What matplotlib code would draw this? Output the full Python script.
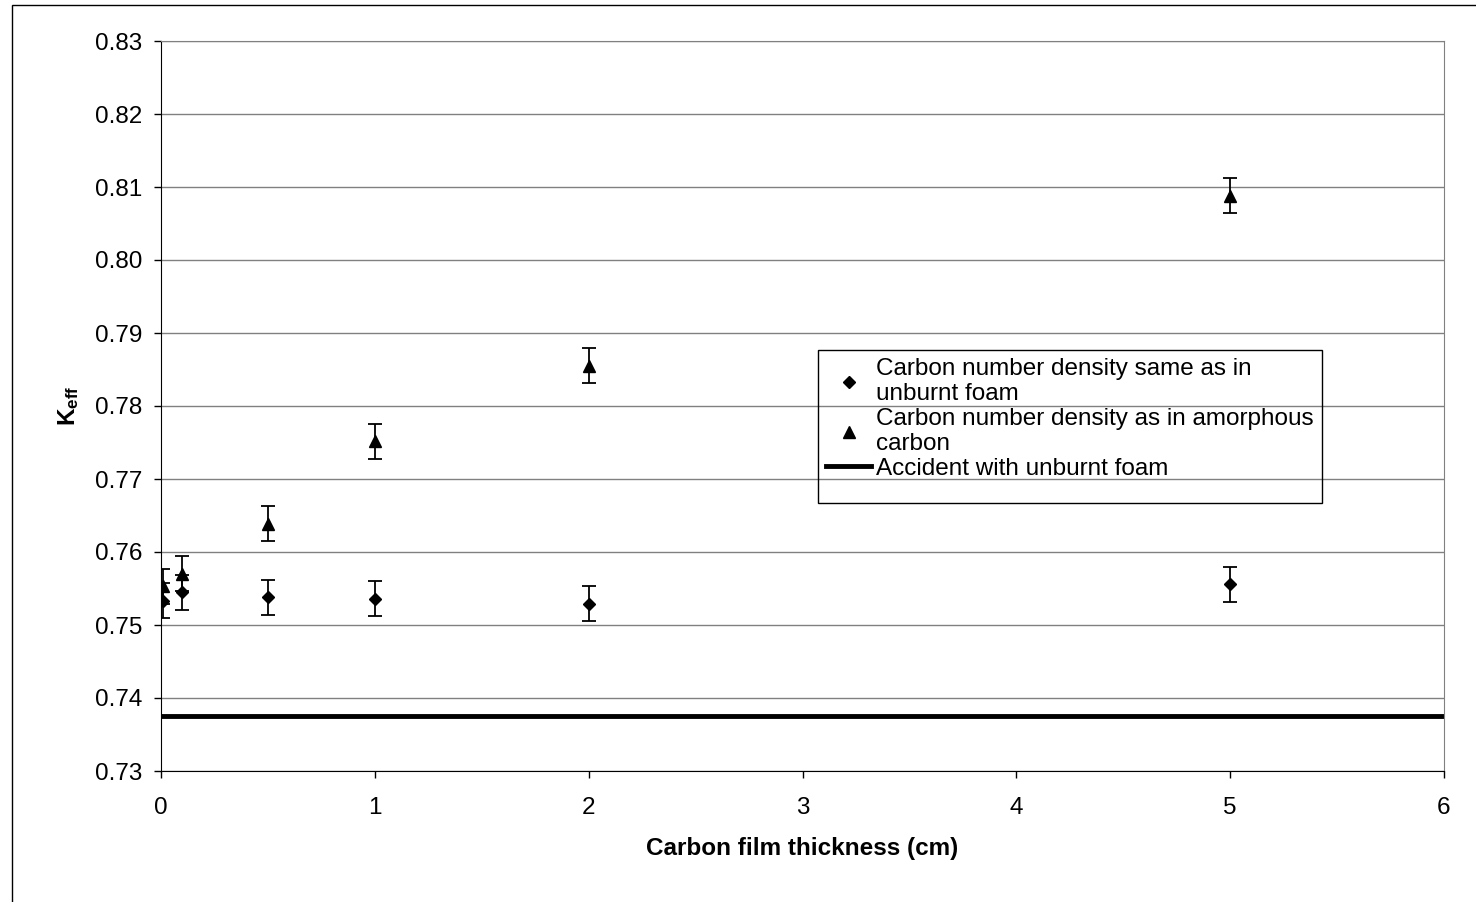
import matplotlib
matplotlib.use("Agg")
import matplotlib.pyplot as plt
from matplotlib.patches import Rectangle
from matplotlib.lines import Line2D

plt.rcParams['font.family'] = ['Liberation Sans', 'DejaVu Sans']
plt.rcParams['mathtext.default'] = 'regular'

thickness = [0.01, 0.1, 0.5, 1, 2, 5]
keff_same = [0.7533, 0.7545, 0.7538, 0.7536, 0.7529, 0.7556]
err_same = [0.0024, 0.0024, 0.0024, 0.0024, 0.0024, 0.0024]
keff_amorph = [0.7553, 0.7570, 0.7639, 0.7752, 0.7855, 0.8088]
err_amorph = [0.0024, 0.0024, 0.0024, 0.0024, 0.0024, 0.0024]
keff_accident = 0.7375

W, H = 1476, 902
fig = plt.figure(figsize=(W / 100, H / 100), dpi=100)
# outer chart border
fig.patches.append(Rectangle((12 / W, -0.01), 1.0, 1 - 5 / H + 0.01,
                             transform=fig.transFigure, fill=False,
                             edgecolor='black', linewidth=1))
ax = fig.add_axes([161 / W, 1 - 771 / H, (1444 - 161) / W, (771 - 41) / H])

ax.errorbar(thickness, keff_same, yerr=err_same, fmt='D', color='black',
            markersize=6.5, capsize=5, elinewidth=1.3, capthick=1.3, zorder=3)
ax.errorbar(thickness, keff_amorph, yerr=err_amorph, fmt='^', color='black',
            markersize=8, capsize=5, elinewidth=1.3, capthick=1.3, zorder=3)
ax.axhline(keff_accident, color='black', linewidth=3.5, zorder=2)

ax.set_xlim(0, 6)
ax.set_ylim(0.73, 0.83)
ax.set_yticks([0.73 + 0.01 * i for i in range(11)])
ax.set_yticklabels(['%.2f' % (0.73 + 0.01 * i) for i in range(11)])
ax.set_xticks(range(7))
ax.yaxis.grid(True, color='#808080', linewidth=1)
ax.set_axisbelow(True)
for s in ax.spines.values():
    s.set_color('#808080')
ax.spines['left'].set_color('black')
ax.spines['bottom'].set_color('black')
ax.tick_params(labelsize=17.5, length=5, direction='out', width=1)
ax.tick_params(axis='x', pad=14)
ax.tick_params(axis='y', pad=8.5)
ax.set_xlabel('Carbon film thickness (cm)', fontsize=17.5, fontweight='bold', labelpad=13)
ax.set_ylabel('K$_{eff}$', fontsize=17.5, fontweight='bold', labelpad=10)

handles = [
    Line2D([], [], marker='D', color='black', linestyle='none', markersize=6.5),
    Line2D([], [], marker='^', color='black', linestyle='none', markersize=8),
    Line2D([], [], color='black', linewidth=3.5),
]
labels = ['Carbon number density same as in\nunburnt foam',
          'Carbon number density as in amorphous\ncarbon',
          'Accident with unburnt foam']
leg = fig.legend(handles, labels, loc='upper left',
                 bbox_to_anchor=(826 / W, 1 - 358 / H),
                 fontsize=17.5, frameon=False, borderpad=0, labelspacing=0.1,
                 handlelength=1.86, handletextpad=0.2, borderaxespad=0)
for t in leg.get_texts():
    t.set_linespacing(1.2)
fig.patches.append(Rectangle((818 / W, 1 - 503 / H), (1322 - 818) / W, (503 - 350) / H,
                             transform=fig.transFigure, fill=False,
                             edgecolor='black', linewidth=1, zorder=5))

fig.savefig('out.png', dpi=100)
